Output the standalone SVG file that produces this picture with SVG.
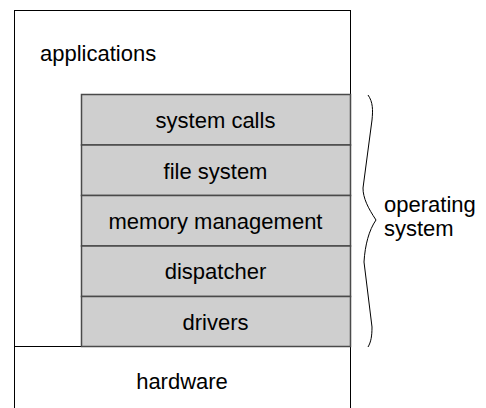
<svg xmlns="http://www.w3.org/2000/svg" width="486" height="408" viewBox="0 0 486 408">
<style>
text{font-family:"Liberation Sans",Arial,sans-serif;font-size:22px;fill:#000}
.c{text-anchor:middle}
.layer{fill:#cfcfcf;stroke:#4a4a4a;stroke-width:1.5}
.box{fill:#fff;stroke:#000;stroke-width:1}
</style>
<g id="outer">
<rect class="box" x="14.5" y="10.5" width="336" height="410"/>
<line x1="14" y1="346.5" x2="351" y2="346.5" stroke="#000" stroke-width="1"/>
</g>
<g id="applications"><text x="40" y="61">applications</text></g>
<g id="system-calls"><rect class="layer" x="81.5" y="94.5" width="269" height="50.5"/><text class="c" x="215.5" y="128">system calls</text></g>
<g id="file-system"><rect class="layer" x="81.5" y="145" width="269" height="50.5"/><text class="c" x="215.5" y="178.5">file system</text></g>
<g id="memory-management"><rect class="layer" x="81.5" y="195.5" width="269" height="50.5"/><text class="c" x="215.5" y="228.5">memory management</text></g>
<g id="dispatcher"><rect class="layer" x="81.5" y="246" width="269" height="50.5"/><text class="c" x="215.5" y="279">dispatcher</text></g>
<g id="drivers"><rect class="layer" x="81.5" y="296.5" width="269" height="50"/><text class="c" x="215.5" y="329.5">drivers</text></g>
<g id="hardware"><text class="c" x="182" y="389">hardware</text></g>
<g id="brace">
<path d="M368,95 C373,102 373,110 372,120 L363,188 C363,198 368,208 376,220 C369,230 365,245 364,262 L372,327 C372,336 371,342 368,347" fill="none" stroke="#000" stroke-width="1"/>
</g>
<g id="os-label"><text x="384" y="212">operating</text><text x="384" y="236">system</text></g>
</svg>
